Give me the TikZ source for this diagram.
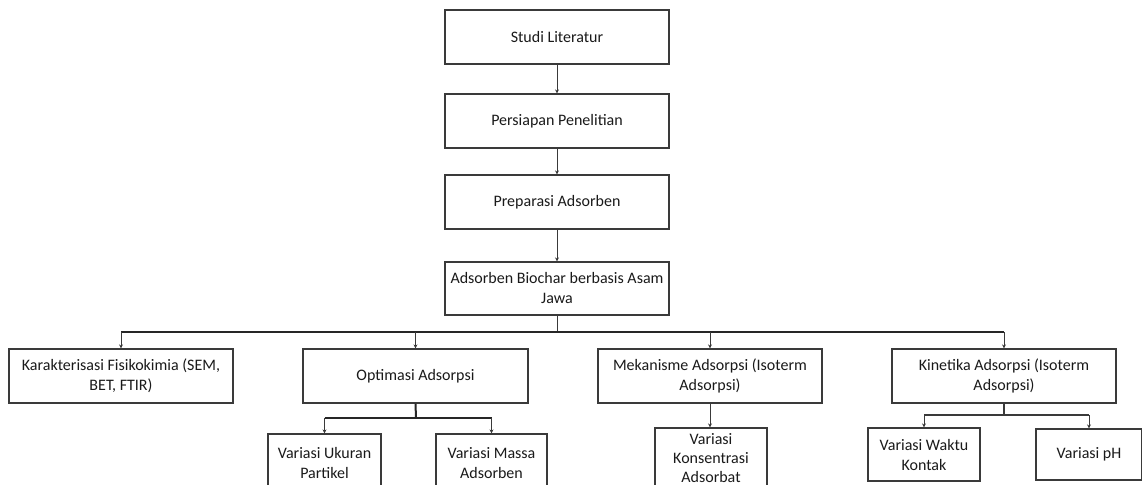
\documentclass[tikz,border=0pt]{standalone}
\usepackage{fontspec}
\setmainfont{Carlito}
\usetikzlibrary{arrows.meta}
\definecolor{linec}{HTML}{3A3A3A}
\definecolor{txt}{HTML}{1A1A1A}
\begin{document}
\begin{tikzpicture}[x=0.75pt,y=-0.75pt,
  box/.style={draw=linec, line width=0.9pt, fill=white, align=center, text=txt,
    font=\fontsize{12pt}{15pt}\selectfont, inner sep=0pt},
  conn/.style={draw=linec, line width=0.75pt, -{Stealth[length=3pt,width=3pt]}},
  plain/.style={draw=linec, line width=0.75pt},
  bus/.style={draw=black!85, line width=1.5pt}]
\clip (0,0) rectangle (1142,485);
\fill[white] (0,0) rectangle (1142,485);
% level 1
\node[box, minimum width=224*0.75pt, minimum height=54*0.75pt] (stu) at (557,37) {Studi Literatur};
\node[box, minimum width=224*0.75pt, minimum height=54*0.75pt] (per) at (557,121) {Persiapan Penelitian};
\node[box, minimum width=224*0.75pt, minimum height=54*0.75pt] (pre) at (557,202) {Preparasi Adsorben};
\node[box, minimum width=224*0.75pt, minimum height=53*0.75pt] (bio) at (557,288.5) {Adsorben Biochar berbasis Asam\\Jawa};
% level 2
\node[box, minimum width=224*0.75pt, minimum height=54*0.75pt] (kar) at (121,376) {Karakterisasi Fisikokimia (SEM,\\BET, FTIR)};
\node[box, minimum width=225*0.75pt, minimum height=54*0.75pt] (opt) at (415.5,376) {Optimasi Adsorpsi};
\node[box, minimum width=224*0.75pt, minimum height=54*0.75pt] (mek) at (710,376) {Mekanisme Adsorpsi (Isoterm\\Adsorpsi)};
\node[box, minimum width=224*0.75pt, minimum height=54*0.75pt] (kin) at (1004,376) {Kinetika Adsorpsi (Isoterm\\Adsorpsi)};
% level 3
\node[box, minimum width=113*0.75pt, minimum height=58*0.75pt] (uku) at (324.5,463) {Variasi Ukuran\\Partikel};
\node[box, minimum width=111*0.75pt, minimum height=58*0.75pt] (mas) at (491.5,463) {Variasi Massa\\Adsorben};
\node[box, minimum width=112*0.75pt, minimum height=60*0.75pt, font=\fontsize{12pt}{14.5pt}\selectfont] (kon) at (711,458) {Variasi\\Konsentrasi\\Adsorbat};
\node[box, minimum width=112*0.75pt, minimum height=53*0.75pt] (wak) at (924,454.5) {Variasi Waktu\\Kontak};
\node[box, minimum width=106*0.75pt, minimum height=51*0.75pt] (ph) at (1089,454.5) {Variasi pH};
% connectors level 1
\draw[conn] (stu) -- (per);
\draw[conn] (per) -- (pre);
\draw[conn] (pre) -- (bio);
% bus to level 2
\coordinate (b1) at (557,332);
\draw[plain] (bio.south) -- (b1);
\draw[bus] (kar.north |- b1) -- (kin.north |- b1);
\draw[conn] (kar.north |- b1) -- (kar.north);
\draw[conn] (opt.north |- b1) -- (opt.north);
\draw[conn] (mek.north |- b1) -- (mek.north);
\draw[conn] (kin.north |- b1) -- (kin.north);
% optimasi children
\coordinate (b2) at (416,418);
\draw[bus] (opt.south) -- (b2);
\draw[bus] (uku.north |- b2) -- (mas.north |- b2);
\draw[conn] (uku.north |- b2) -- (uku.north);
\draw[conn] (mas.north |- b2) -- (mas.north);
% mekanisme child
\draw[conn] (mek.south) -- (mek.south |- kon.north);
% kinetika children
\coordinate (b3) at (1004,415);
\draw[plain, line width=1.1pt] (kin.south) -- (b3);
\draw[plain, line width=1.1pt] (wak.north |- b3) -- (ph.north |- b3);
\draw[conn] (wak.north |- b3) -- (wak.north);
\draw[conn] (ph.north |- b3) -- (ph.north);
\end{tikzpicture}
\end{document}
